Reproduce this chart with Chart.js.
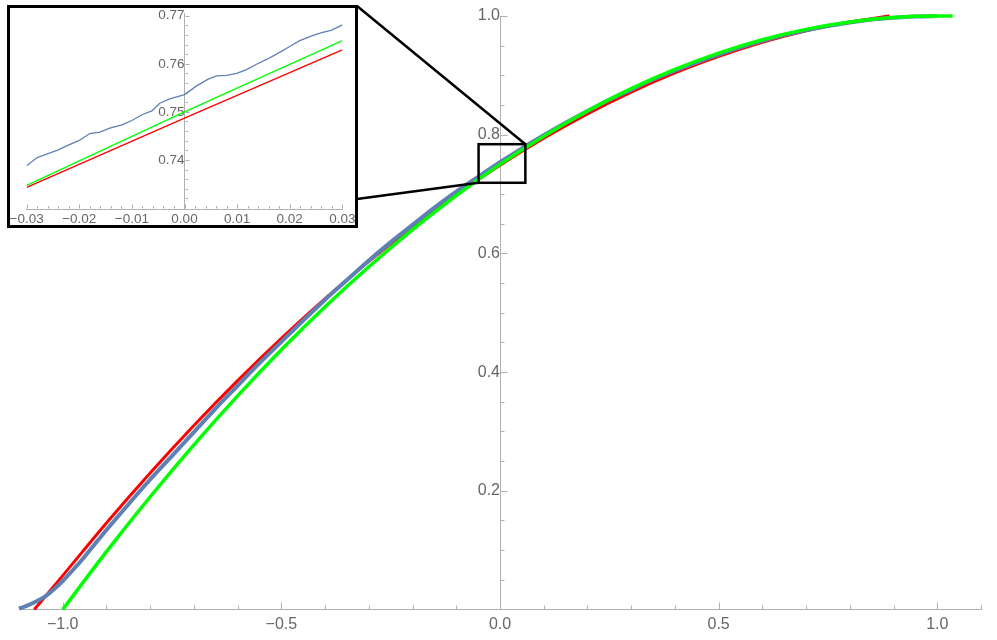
<!DOCTYPE html>
<html><head><meta charset="utf-8">
<script src="https://cdn.jsdelivr.net/npm/chart.js@4/dist/chart.umd.min.js"></script>
<style>
html,body{margin:0;padding:0;background:#fff;}
#wrap{position:relative;width:997px;height:640px;overflow:hidden;}
#main{position:absolute;left:0;top:0;}
#insetBox{position:absolute;left:7px;top:5px;width:345px;height:217px;border:3px solid #000;background:#fff;}
#inset{display:block;}
</style></head><body>
<div id="wrap">
<canvas id="main" width="997" height="640"></canvas>
<div id="insetBox"><canvas id="inset" width="345" height="217"></canvas></div>
</div>
<script>
// ---------- main plot data ----------
const greenX = [-1.0,-0.9,-0.8,-0.7,-0.6,-0.5,-0.4,-0.3,-0.2,-0.1,0.0,0.1,0.2,0.3,0.4,0.5,0.6,0.7,0.8,0.9,1.0,1.035];
const greenY = [0.0,0.0975,0.19,0.2775,0.36,0.4375,0.51,0.5775,0.64,0.6975,0.75,0.7975,0.84,0.8775,0.91,0.9375,0.96,0.9775,0.99,0.9975,1.0,1.0];

const redX = [-1.065,-1.0,-0.9,-0.8,-0.7,-0.6,-0.5,-0.4,-0.3,-0.2,-0.1,0.0,0.1,0.2,0.3,0.4,0.5,0.6,0.7,0.8,0.891];
const redY = [0.0,0.0571,0.1458,0.2301,0.3101,0.3857,0.457,0.524,0.5867,0.645,0.699,0.7487,0.794,0.835,0.8717,0.904,0.932,0.9557,0.9751,0.9901,1.0];

const blueX = [-1.1,-1.08,-1.06,-1.04,-1.02,-1.0,-0.97,-0.95,-0.9,-0.85,-0.8,-0.75,-0.7,-0.65,-0.6,-0.55,-0.5,-0.45,-0.4,-0.35,-0.3,-0.25,-0.2,-0.15,-0.1,-0.05,0.0,0.05,0.1,0.15,0.2,0.25,0.3,0.35,0.4,0.45,0.5,0.55,0.6,0.65,0.7,0.75,0.8,0.85,0.9,0.95,1.0];
const blueY = [0.0015,0.007,0.014,0.022,0.034,0.048,0.072,0.089,0.134,0.177,0.219,0.259,0.299,0.339,0.377,0.415,0.451,0.487,0.522,0.555,0.588,0.619,0.648,0.677,0.704,0.729,0.7536,0.777,0.799,0.82,0.84,0.859,0.876,0.893,0.908,0.922,0.935,0.947,0.958,0.968,0.976,0.983,0.989,0.994,0.997,0.999,1.0];

const xMajorTicks = [-1.0,-0.5,0.0,0.5,1.0];
const yMajorTicks = [0.2,0.4,0.6,0.8,1.0];

// zoomed region shown in the inset (data units)
const zoomBoxX = [-0.049, 0.058];
const zoomBoxY = [0.719, 0.784];

// ---------- inset data ----------
const insetBlueX = [-0.03,-0.028,-0.0262,-0.024,-0.0221,-0.0201,-0.018,-0.0161,-0.0142,-0.0119,-0.01,-0.0081,-0.0062,-0.0047,-0.0028,0.0,0.0023,0.0045,0.0061,0.008,0.0099,0.0118,0.0137,0.0156,0.0175,0.02,0.0219,0.0242,0.0261,0.028,0.03];
const insetBlueY = [0.7388,0.7405,0.7412,0.7421,0.7431,0.744,0.7455,0.7458,0.7466,0.7473,0.7482,0.7494,0.7502,0.7518,0.7527,0.7536,0.7554,0.7568,0.7575,0.7576,0.758,0.7588,0.7599,0.7609,0.762,0.7636,0.7648,0.7658,0.7665,0.767,0.7681];
const insetGreenX = [-0.03,0.0,0.03];
const insetGreenY = [0.7347,0.75,0.7648];
const insetRedX = [-0.03,0.0,0.03];
const insetRedY = [0.7343,0.7487,0.7629];
const insetXTicks = [-0.03,-0.02,-0.01,0.0,0.01,0.02,0.03];
const insetYTicks = [0.74,0.75,0.76,0.77];

// ---------- helpers ----------
const pts = (xs, ys) => xs.map((x, i) => ({x: x, y: ys[i]}));
const fmt = (v, d) => { const s = Math.abs(v).toFixed(d); return (v < -1e-9 ? '\u2212' : '') + s; };
function range(a, b, step) { const out = []; const n = Math.round((b - a) / step); for (let i = 0; i <= n; i++) out.push(+(a + i * step).toFixed(6)); return out; }
const isMajor = (v, list) => list.some(m => Math.abs(m - v) < 1e-6);
const noPad = s => { s.paddingTop = 0; s.paddingBottom = 0; s.paddingLeft = 0; s.paddingRight = 0; };

const FONT = '"Liberation Sans", Arial, Helvetica, sans-serif';
const AXIS = '#b0b0b0';
const LABEL = '#666666';

function tickPlugin(cfg) {
  return {
    id: 'tickMarks',
    beforeDatasetsDraw(chart) {
      const ctx = chart.ctx, xs = chart.scales.x, ys = chart.scales.y;
      const axisY = Math.round(chart.chartArea.bottom) - 0.5;
      const axisX = Math.round(xs.getPixelForValue(0)) + 0.5;
      ctx.save();
      ctx.strokeStyle = AXIS; ctx.lineWidth = 1;
      ctx.beginPath();
      cfg.xTicks.forEach(v => {
        const len = isMajor(v, cfg.xMajor) ? cfg.major : cfg.minor;
        const px = Math.round(xs.getPixelForValue(v)) + 0.5;
        ctx.moveTo(px, axisY); ctx.lineTo(px, axisY - len);
      });
      cfg.yTicks.forEach(v => {
        const len = isMajor(v, cfg.yMajor) ? cfg.major : cfg.minor;
        const py = Math.round(ys.getPixelForValue(v)) + 0.5;
        ctx.moveTo(axisX, py); ctx.lineTo(axisX + len, py);
      });
      ctx.stroke();
      ctx.restore();
    }
  };
}

const zoomPlugin = {
  id: 'zoomLines',
  afterDatasetsDraw(chart) {
    const ctx = chart.ctx, xs = chart.scales.x, ys = chart.scales.y;
    const l = xs.getPixelForValue(zoomBoxX[0]), r = xs.getPixelForValue(zoomBoxX[1]);
    const t = ys.getPixelForValue(zoomBoxY[1]), b = ys.getPixelForValue(zoomBoxY[0]);
    const box = document.getElementById('insetBox');
    const bx = box.offsetLeft + box.offsetWidth;
    const by = box.offsetTop;
    ctx.save();
    ctx.strokeStyle = '#000'; ctx.lineWidth = 2.5; ctx.lineJoin = 'miter';
    ctx.strokeRect(l, t, r - l, b - t);
    ctx.beginPath();
    ctx.moveTo(bx - 1, by + 1); ctx.lineTo(r, t);
    ctx.moveTo(bx - 1, by + 194); ctx.lineTo(l, b);
    ctx.stroke();
    ctx.restore();
  }
};

// ---------- main chart ----------
new Chart(document.getElementById('main'), {
  type: 'line',
  data: {
    datasets: [
      {label: 'green', data: pts(greenX, greenY), borderColor: '#00ff00', borderWidth: 3.5, pointRadius: 0, clip: false, tension: 0.4, cubicInterpolationMode: 'monotone'},
      {label: 'blue', data: pts(blueX, blueY), borderColor: '#5e81b5', borderWidth: 4, pointRadius: 0, clip: false, tension: 0.4, cubicInterpolationMode: 'monotone'},
      {label: 'red', data: pts(redX, redY), borderColor: '#ff0000', borderWidth: 3, pointRadius: 0, clip: false, tension: 0.4, cubicInterpolationMode: 'monotone'}
    ]
  },
  options: {
    responsive: false, animation: false, events: [],
    layout: {padding: {left: 19, right: 16, top: 16, bottom: 0}},
    plugins: {legend: {display: false}, tooltip: {enabled: false}},
    scales: {
      x: {
        type: 'linear', min: -1.1, max: 1.1, position: 'bottom',
        grid: {display: false, drawTicks: false},
        border: {display: true, color: AXIS, width: 1},
        afterFit: s => { s.height = 30.5; noPad(s); },
        afterBuildTicks: s => { s.ticks = xMajorTicks.map(v => ({value: v})); },
        ticks: {padding: 5, color: LABEL, font: {family: FONT, size: 16}, maxRotation: 0, autoSkip: false, callback: v => fmt(v, 1)}
      },
      y: {
        type: 'linear', min: 0, max: 1.0, position: {x: 0},
        grid: {display: false, drawTicks: false},
        border: {display: true, color: AXIS, width: 1},
        afterFit: noPad,
        afterBuildTicks: s => { s.ticks = yMajorTicks.map(v => ({value: v})); },
        ticks: {padding: 6, color: LABEL, font: {family: FONT, size: 16}, autoSkip: false, callback: v => fmt(v, 1)}
      }
    }
  },
  plugins: [tickPlugin({xTicks: range(-1.1, 1.1, 0.1), yTicks: range(0.05, 1.0, 0.05), xMajor: xMajorTicks, yMajor: yMajorTicks, major: 7, minor: 4}), zoomPlugin]
});

// ---------- inset chart ----------
new Chart(document.getElementById('inset'), {
  type: 'line',
  data: {
    datasets: [
      {label: 'green', data: pts(insetGreenX, insetGreenY), borderColor: '#00ff00', borderWidth: 1.3, pointRadius: 0, tension: 0},
      {label: 'red', data: pts(insetRedX, insetRedY), borderColor: '#ff0000', borderWidth: 1.3, pointRadius: 0, tension: 0},
      {label: 'blue', data: pts(insetBlueX, insetBlueY), borderColor: '#5e81b5', borderWidth: 1.3, pointRadius: 0, tension: 0}
    ]
  },
  options: {
    responsive: false, animation: false, events: [],
    layout: {padding: {left: 16.7, right: 12.7, top: 5.3, bottom: 0}},
    plugins: {legend: {display: false}, tooltip: {enabled: false}},
    scales: {
      x: {
        type: 'linear', min: -0.03, max: 0.03, position: 'bottom',
        grid: {display: false, drawTicks: false},
        border: {display: true, color: AXIS, width: 1},
        afterFit: s => { s.height = 16; noPad(s); },
        afterBuildTicks: s => { s.ticks = insetXTicks.map(v => ({value: v})); },
        ticks: {padding: 2, color: LABEL, font: {family: FONT, size: 13.5}, maxRotation: 0, autoSkip: false, callback: v => fmt(v, 2)}
      },
      y: {
        type: 'linear', min: 0.7298, max: 0.7705, position: {x: 0},
        grid: {display: false, drawTicks: false},
        border: {display: true, color: AXIS, width: 1},
        afterFit: noPad,
        afterBuildTicks: s => { s.ticks = insetYTicks.map(v => ({value: v})); },
        ticks: {padding: 7, color: LABEL, font: {family: FONT, size: 13.5}, autoSkip: false, callback: v => fmt(v, 2)}
      }
    }
  },
  plugins: [tickPlugin({xTicks: range(-0.03, 0.03, 0.002), yTicks: range(0.732, 0.77, 0.002), xMajor: insetXTicks, yMajor: insetYTicks, major: 4, minor: 2.5})]
});
</script>
</body></html>
